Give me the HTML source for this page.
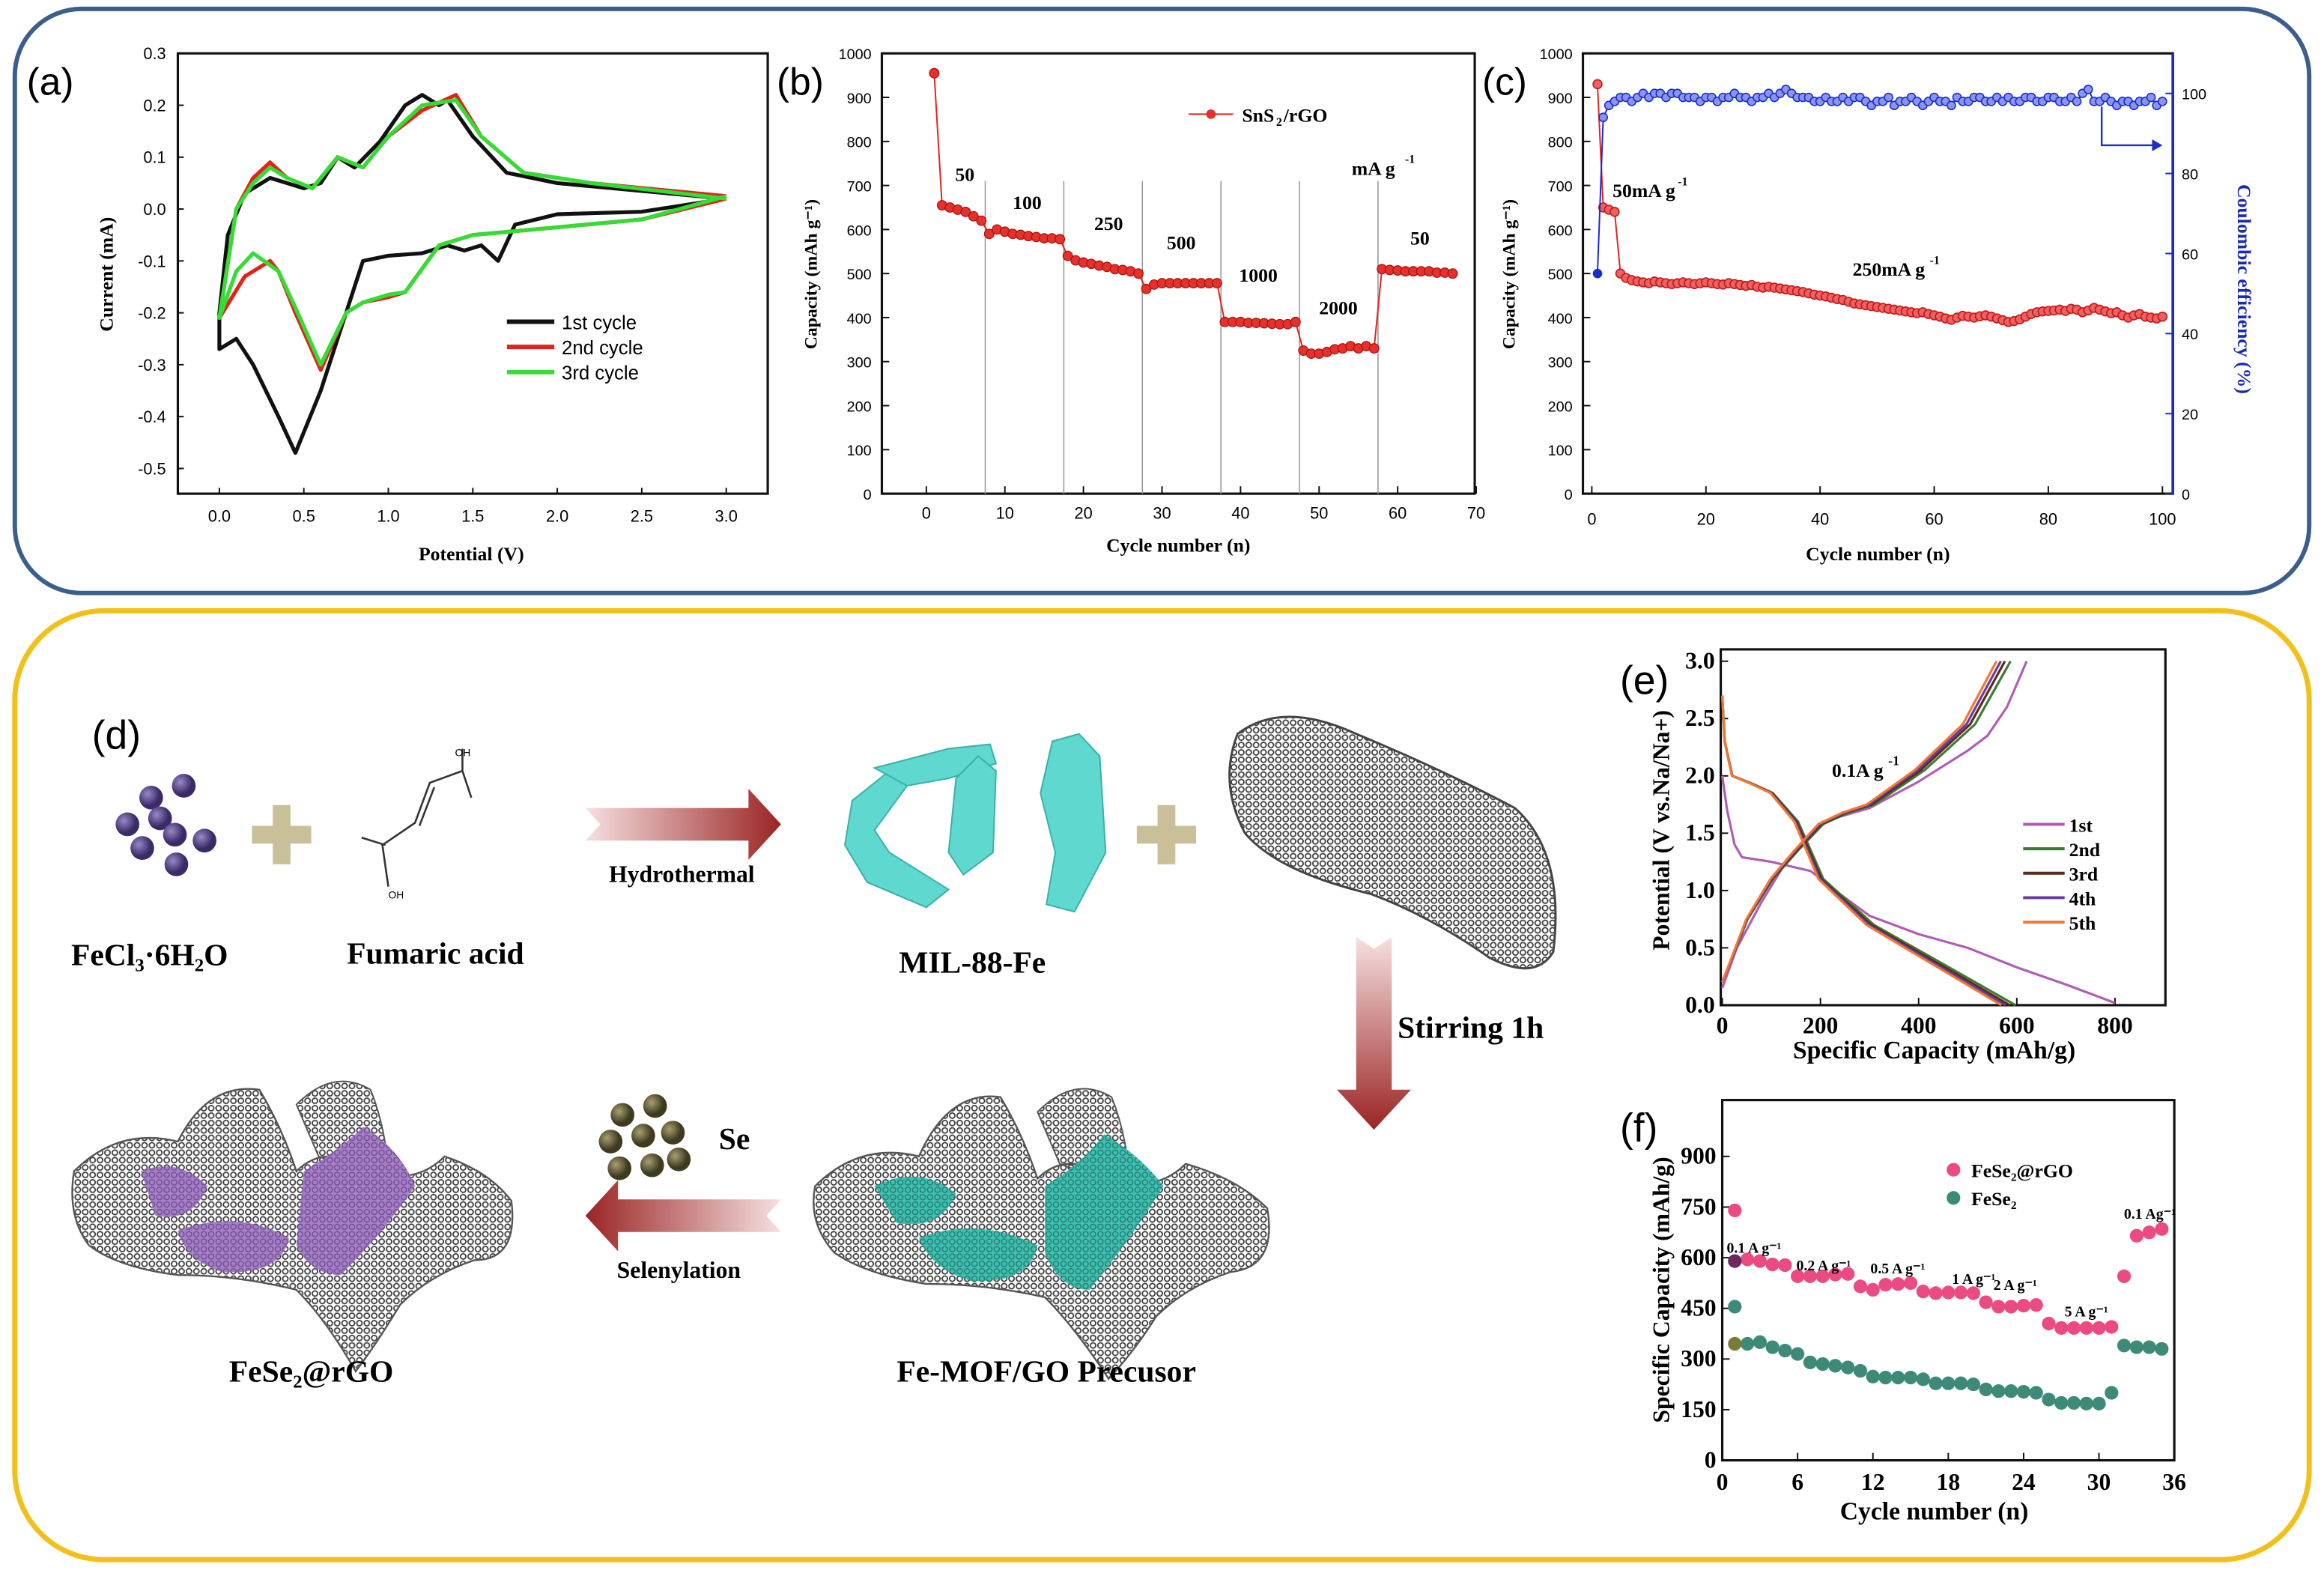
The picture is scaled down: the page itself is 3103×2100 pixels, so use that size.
<!DOCTYPE html>
<html><head><meta charset="utf-8"><style>
html,body{margin:0;padding:0;background:#fff;}
svg{display:block;}
.t{font-family:"Liberation Serif",serif;font-weight:bold;}
.s{font-family:"Liberation Sans",sans-serif;}
</style></head><body>
<svg id="fig" width="3103" height="2100" viewBox="0 0 1568 1061" preserveAspectRatio="none" xmlns="http://www.w3.org/2000/svg">
<defs>
<pattern id="mesh" width="5" height="5" patternUnits="userSpaceOnUse"><circle cx="2.5" cy="2.5" r="1.8" fill="none" stroke="#3a3a3a" stroke-width="0.9"/></pattern>
<pattern id="meshP" width="5" height="5" patternUnits="userSpaceOnUse"><rect width="5" height="5" fill="#a77fc9"/><circle cx="2.5" cy="2.5" r="1.8" fill="none" stroke="#6d4c8c" stroke-width="0.7"/></pattern>
<pattern id="meshC" width="5" height="5" patternUnits="userSpaceOnUse"><rect width="5" height="5" fill="#3fbfb0"/><circle cx="2.5" cy="2.5" r="1.8" fill="none" stroke="#237a70" stroke-width="0.7"/></pattern>
<linearGradient id="gR" x1="0" x2="1"><stop offset="0" stop-color="#f6e0e0"/><stop offset="1" stop-color="#9b2424"/></linearGradient>
<linearGradient id="gL" x1="1" x2="0"><stop offset="0" stop-color="#f6e0e0"/><stop offset="1" stop-color="#9b2424"/></linearGradient>
<linearGradient id="gD" x1="0" x2="0" y1="0" y2="1"><stop offset="0" stop-color="#f6e0e0"/><stop offset="1" stop-color="#9b2424"/></linearGradient>
<radialGradient id="gPu" cx="0.35" cy="0.35"><stop offset="0" stop-color="#9a88c8"/><stop offset="1" stop-color="#3a2a66"/></radialGradient>
<radialGradient id="gSe" cx="0.35" cy="0.35"><stop offset="0" stop-color="#a8a070"/><stop offset="1" stop-color="#3e3a20"/></radialGradient>
</defs>
<rect x="10" y="6" width="1548" height="394" rx="45" fill="none" stroke="#3c5e8c" stroke-width="3"/>
<rect x="10" y="412" width="1548" height="640" rx="60" fill="none" stroke="#f2c01a" stroke-width="3.5"/>
<g id="plots"></g>
<g id="diagram">
<text class="s" x="62" y="505" font-size="27">(d)</text>
<g>
<circle cx="102" cy="538" r="8" fill="url(#gPu)"/><circle cx="124" cy="530" r="8" fill="url(#gPu)"/><circle cx="86" cy="556" r="8" fill="url(#gPu)"/><circle cx="108" cy="552" r="8" fill="url(#gPu)"/><circle cx="118" cy="563" r="8" fill="url(#gPu)"/><circle cx="96" cy="572" r="8" fill="url(#gPu)"/><circle cx="138" cy="567" r="8" fill="url(#gPu)"/><circle cx="119" cy="583" r="8" fill="url(#gPu)"/></g>
<path d="M184 543h12v14h14v12h-14v14h-12v-14h-14v-12h14z" fill="#c9c09a"/>
<g fill="none" stroke="#333" stroke-width="1.3"><path d="M262 598 L258 570 L280 555 L290 528 L312 520 L318 538 M312 520 L312 505 M260 570 L244 565 M283 557 L293 531"/></g>
<text x="307" y="510" font-size="7" font-family="Liberation Sans">OH</text>
<text x="262" y="606" font-size="7" font-family="Liberation Sans">OH</text>
<text class="t" x="48" y="651" font-size="21">FeCl₃·6H₂O</text>
<text class="t" x="234" y="650" font-size="21">Fumaric acid</text>
<path d="M395 545 L505 545 L505 532 L527 556 L505 580 L505 567 L395 567 L405 556 Z" fill="url(#gR)"/>
<text class="t" x="460" y="595" font-size="16" text-anchor="middle">Hydrothermal</text>
<g fill="#5fd9cf" stroke="#3ab0a6" stroke-width="1">
<path d="M575 540 L600 520 L612 530 L590 560 L600 575 L640 600 L625 612 L585 595 L570 570 Z"/>
<path d="M590 518 L640 505 L668 502 L672 515 L640 525 L612 530 Z"/>
<path d="M645 525 L660 510 L672 520 L670 575 L650 590 L640 575 Z"/>
<path d="M710 500 L728 495 L742 510 L746 575 L725 615 L706 610 L712 575 L702 535 Z"/></g>
<text class="t" x="656" y="656" font-size="21" text-anchor="middle">MIL-88-Fe</text>
<path d="M781 543h12v14h14v12h-14v14h-12v-14h-14v-12h14z" fill="#c9c09a"/>
<path d="M835 495 Q865 472 915 495 Q975 520 1022 545 Q1056 575 1048 642 Q1036 662 1005 646 Q965 618 925 603 Q862 588 840 562 Q822 528 835 495 Z" fill="url(#mesh)" stroke="#444" stroke-width="1.5"/>
<path d="M915 632 L927 640 L939 632 L939 735 L952 735 L927 762 L902 735 L915 735 Z" fill="url(#gD)"/>
<text class="t" x="943" y="700" font-size="21">Stirring 1h</text>
<g>
<path d="M50 790 Q80 760 120 770 Q140 730 175 735 Q190 760 200 790 Q220 770 250 790 Q280 800 300 780 Q330 790 345 810 Q350 850 320 850 Q290 860 270 880 Q255 905 240 925 Q220 890 200 870 Q160 860 120 860 Q80 855 60 840 Q45 820 50 790 Z" fill="url(#mesh)" stroke="#555" stroke-width="1.2"/>
<path d="M200 745 Q225 720 250 735 Q260 760 262 790 Q240 790 215 780 Z" fill="url(#mesh)" stroke="#555"/>
<path d="M95 790 Q120 780 140 800 Q130 825 105 820 Z" fill="url(#meshP)"/>
<path d="M120 830 Q160 815 195 835 Q190 860 150 858 Q125 850 120 830 Z" fill="url(#meshP)"/>
<path d="M205 790 Q230 775 245 760 Q270 775 280 800 Q260 830 230 860 Q210 860 200 840 Z" fill="url(#meshP)"/></g>
<text class="t" x="210" y="932" font-size="21" text-anchor="middle">FeSe₂@rGO</text>
<g>
<circle cx="420" cy="752" r="8" fill="url(#gSe)"/><circle cx="442" cy="746" r="8" fill="url(#gSe)"/><circle cx="412" cy="770" r="8" fill="url(#gSe)"/><circle cx="434" cy="766" r="8" fill="url(#gSe)"/><circle cx="454" cy="764" r="8" fill="url(#gSe)"/><circle cx="418" cy="788" r="8" fill="url(#gSe)"/><circle cx="440" cy="786" r="8" fill="url(#gSe)"/><circle cx="458" cy="782" r="8" fill="url(#gSe)"/></g>
<text class="t" x="485" y="775" font-size="21">Se</text>
<path d="M527 809 L417 809 L417 796 L395 820 L417 844 L417 831 L527 831 L517 820 Z" fill="url(#gL)"/>
<text class="t" x="458" y="862" font-size="16" text-anchor="middle">Selenylation</text>
<g>
<path d="M550 800 Q580 770 620 780 Q640 735 675 740 Q690 765 700 795 Q720 775 750 795 Q780 805 800 785 Q835 795 855 815 Q862 855 830 858 Q800 868 780 888 Q765 912 748 930 Q725 895 705 875 Q665 866 625 866 Q585 860 563 845 Q545 825 550 800 Z" fill="url(#mesh)" stroke="#555" stroke-width="1.2"/>
<path d="M700 750 Q725 725 750 740 Q760 765 762 795 Q740 795 715 785 Z" fill="url(#mesh)" stroke="#555"/>
<path d="M590 800 Q620 785 645 805 Q635 830 605 825 Z" fill="url(#meshC)"/>
<path d="M620 835 Q660 820 700 840 Q695 866 655 864 Q628 856 620 835 Z" fill="url(#meshC)"/>
<path d="M705 800 Q730 785 745 765 Q770 780 785 800 Q760 840 735 870 Q715 870 705 845 Z" fill="url(#meshC)"/></g>
<text class="t" x="706" y="932" font-size="21" text-anchor="middle">Fe-MOF/GO Precusor</text>
</g>
</svg>
<script>
// ---------- data ----------
const cv1V=[3.0,2.5,2.0,1.75,1.65,1.55,1.45,1.35,1.2,1.0,0.85,0.75,0.6,0.45,0.35,0.2,0.1,0.0,0.0,0.05,0.15,0.3,0.5,0.6,0.7,0.8,0.95,1.1,1.2,1.3,1.35,1.5,1.7,2.0,2.5,3.0];
const cv1I=[0.02,-0.005,-0.01,-0.03,-0.1,-0.07,-0.08,-0.07,-0.085,-0.09,-0.1,-0.2,-0.35,-0.47,-0.4,-0.3,-0.25,-0.27,-0.2,-0.05,0.03,0.06,0.04,0.05,0.1,0.08,0.13,0.2,0.22,0.2,0.21,0.14,0.07,0.05,0.035,0.02];
const cv2V=[3.0,2.5,2.0,1.5,1.3,1.1,1.0,0.85,0.75,0.6,0.45,0.35,0.3,0.15,0.0,0.0,0.1,0.2,0.3,0.4,0.55,0.7,0.85,1.0,1.2,1.4,1.55,1.8,2.2,3.0];
const cv2I=[0.02,-0.02,-0.035,-0.05,-0.07,-0.16,-0.17,-0.18,-0.2,-0.31,-0.2,-0.12,-0.1,-0.13,-0.21,-0.21,0.0,0.06,0.09,0.06,0.04,0.1,0.08,0.14,0.19,0.22,0.14,0.07,0.05,0.025];
const cv3V=[3.0,2.5,2.0,1.5,1.3,1.1,1.0,0.85,0.75,0.6,0.45,0.35,0.2,0.1,0.0,0.0,0.1,0.2,0.3,0.4,0.55,0.7,0.85,1.0,1.2,1.4,1.55,1.8,2.2,3.0];
const cv3I=[0.025,-0.02,-0.035,-0.05,-0.07,-0.16,-0.165,-0.18,-0.2,-0.3,-0.19,-0.12,-0.085,-0.12,-0.21,-0.21,0.0,0.05,0.08,0.06,0.04,0.1,0.08,0.14,0.2,0.21,0.14,0.07,0.05,0.02];
const aXTicks=[0.0,0.5,1.0,1.5,2.0,2.5,3.0];
const aYTicks=[0.3,0.2,0.1,0.0,-0.1,-0.2,-0.3,-0.4,-0.5];
const bCap=[955,655,650,645,640,630,620,590,600,595,590,588,585,583,580,580,578,540,530,525,522,518,515,510,508,505,500,465,475,478,478,478,478,478,478,478,478,390,390,390,388,388,387,386,385,385,390,325,318,318,322,328,330,335,330,335,330,510,508,507,505,505,505,505,502,502,500];
const bRates=["50","100","250","500","1000","2000","50"];
const bDividers=[7.5,17.5,27.5,37.5,47.5,57.5];
const bXTicks=[0,10,20,30,40,50,60,70];
const capTicks=[0,100,200,300,400,500,600,700,800,900,1000];
const cCap=[930,650,645,640,500,490,485,482,480,478,482,480,478,476,478,480,478,476,478,480,478,476,475,478,476,474,472,474,470,468,470,468,466,464,462,460,458,455,452,450,448,445,442,440,436,432,430,428,426,424,422,420,418,416,414,412,410,412,408,405,402,398,395,400,404,402,400,403,405,402,398,394,390,392,396,402,408,412,414,415,416,418,415,420,418,412,416,422,418,414,410,412,405,400,405,408,402,400,398,402];
const cCE=[55,94,97,98,99,99,98,99,100,99,100,100,99,100,100,99,99,99,98,99,99,98,99,99,100,99,99,98,99,99,100,99,100,101,100,99,99,99,98,98,99,98,98,99,98,99,99,98,97,98,98,99,97,98,98,99,98,97,98,99,98,98,97,99,98,98,99,99,98,98,99,98,99,98,98,99,99,98,98,99,99,98,98,99,98,100,101,98,98,99,98,97,98,98,97,98,98,99,97,98];
const cXTicks=[0,20,40,60,80,100];
const ceTicks=[0,20,40,60,80,100];
const eDis1C=[0,10,25,40,100,180,230,300,400,500,600,700,800];
const eDis1V=[2.0,1.7,1.4,1.29,1.25,1.17,1.0,0.78,0.62,0.5,0.33,0.18,0.02];
const eChg1C=[0,30,80,130,180,220,300,400,500,540,580,620];
const eChg1V=[0.15,0.5,0.9,1.25,1.5,1.62,1.72,1.95,2.22,2.35,2.6,3.0];
const eDisC=[0,5,20,60,100,150,200,250,300,400,500,580];
const eDisV=[2.7,2.3,2.0,1.93,1.85,1.6,1.1,0.9,0.7,0.45,0.2,0.0];
const eChgC=[0,50,100,150,200,250,300,400,500,570];
const eChgV=[0.2,0.75,1.1,1.35,1.58,1.68,1.75,2.05,2.45,3.0];
const eScale=[1.03,1.01,0.995,0.98];
const eXTicks=[0,200,400,600,800];
const eYTicks=[0.0,0.5,1.0,1.5,2.0,2.5,3.0];
const eNames=["1st","2nd","3rd","4th","5th"];
const fRgo=[740,595,590,580,578,545,545,545,550,552,515,505,520,522,525,500,495,497,497,495,468,455,455,458,460,405,392,392,392,392,395,545,665,675,685];
const fBare=[455,345,350,335,325,315,290,285,280,275,265,248,245,245,245,240,228,228,228,225,210,205,205,203,200,180,170,170,168,168,200,340,335,335,330];
const fGhostX=[1,1];
const fGhostY=[590,345];
const fXTicks=[0,6,12,18,24,30,36];
const fYTicks=[0,150,300,450,600,750,900];

// ---------- drawing ----------
const NS="http://www.w3.org/2000/svg";
const root=document.getElementById('plots');
function mk(tag,attrs,parent){const e=document.createElementNS(NS,tag);for(const k in attrs)e.setAttribute(k,attrs[k]);(parent||root).appendChild(e);return e;}
function lin(d0,d1,p0,p1){return v=>p0+(v-d0)*(p1-p0)/(d1-d0);}
function txt(x,y,s,size,cls,anchor,parent){const t=mk('text',{x:x,y:y,'font-size':size,class:cls,'text-anchor':anchor||'start'},parent);t.textContent=s;return t;}
function frame(x0,y0,x1,y1,name){const r=mk('rect',{x:x0,y:y0,width:x1-x0,height:y1-y0,fill:'none',stroke:'#111','stroke-width':1.6});

}
function path(xs,ys,sx,sy,stroke,w,name){let d='';for(let i=0;i<xs.length;i++)d+=(i?'L':'M')+sx(xs[i]).toFixed(1)+' '+sy(ys[i]).toFixed(1);
const p=mk('path',{d:d,fill:'none',stroke:stroke,'stroke-width':w,'stroke-linejoin':'round'});

return p;}

{const sx=lin(0,3,148,490), sy=lin(0,0.1,141,106);
frame(120,36,518,333,'panel-a-plot-area');
aXTicks.forEach(v=>{mk('line',{x1:sx(v),x2:sx(v),y1:333,y2:329,stroke:'#111'});const t=txt(sx(v),352,v.toFixed(1),11,'s','middle');

});
aYTicks.forEach(v=>{mk('line',{x1:120,x2:124,y1:sy(v),y2:sy(v),stroke:'#111'});const t=txt(112,sy(v)+4,v.toFixed(1),11,'s','end');

});
path(cv1V,cv1I,sx,sy,'#111',2.6,'cv-cycle-1');
path(cv2V,cv2I,sx,sy,'#e0241c',2.6,'cv-cycle-2');
path(cv3V,cv3I,sx,sy,'#33dd33',2.6,'cv-cycle-3');
const names=['1st cycle','2nd cycle','3rd cycle'],cols=['#111','#e0241c','#33dd33'];
names.forEach((n,i)=>{const y=217+i*17;mk('line',{x1:342,x2:374,y1:y,y2:y,stroke:cols[i],'stroke-width':3});const t=txt(379,y+5,n,13,'s');

});
let t=txt(18,64,'(a)',26,'s');
t=txt(318,378,'Potential (V)',13,'t','middle');
t=txt(0,0,'Current (mA)',13,'t','middle');t.setAttribute('transform','translate(76,185) rotate(-90)');}

{const sx=lin(0,70,625,996), sy=lin(0,1000,333,36);
frame(595,36,995,333,'panel-b-plot-area');
bXTicks.forEach(v=>{mk('line',{x1:sx(v),x2:sx(v),y1:333,y2:328,stroke:'#111'});const t=txt(sx(v),350,v,11,'s','middle');

});
capTicks.forEach(v=>{mk('line',{x1:595,x2:600,y1:sy(v),y2:sy(v),stroke:'#111'});const t=txt(588,sy(v)+4,v,10,'s','end');

});
bDividers.forEach(v=>{const l=mk('line',{x1:sx(v),x2:sx(v),y1:sy(0),y2:sy(710),stroke:'#999','stroke-width':0.8});

});
const xs=bCap.map((v,i)=>i+1);
path(xs,bCap,sx,sy,'#e0241c',1,'b-capacity-line');
bCap.forEach((v,i)=>{const c=mk('circle',{cx:sx(i+1),cy:sy(v),r:3.2,fill:'#e8302a',stroke:'#a01010','stroke-width':0.6});

});
const lp=[[651,122],[693,141],[748,155],[797,168],[849,190],[903,212],[958,165]];
bRates.forEach((r,i)=>{const t=txt(lp[i][0],lp[i][1],r,13,'t','middle');

});
let t=txt(912,118,'mA g',13,'t');
txt(948,110,'-1',8,'t');
mk('line',{x1:802,x2:832,y1:77,y2:77,stroke:'#e0241c'});mk('circle',{cx:817,cy:77,r:3.2,fill:'#e8302a'});
t=txt(838,82,'SnS',13,'t');
txt(861,85,'2',8,'t');txt(866,82,'/rGO',13,'t');
t=txt(524,64,'(b)',26,'s');
t=txt(795,372,'Cycle number (n)',13,'t','middle');
t=txt(0,0,'Capacity (mAh g⁻¹)',12,'t','middle');t.setAttribute('transform','translate(551,185) rotate(-90)');}

{const sx=lin(0,100,1074,1459), sy=lin(0,1000,333,36), sy2=lin(0,100,333,63);
frame(1068,36,1466,333,'panel-c-plot-area');
mk('line',{x1:1466,x2:1466,y1:36,y2:333,stroke:'#1a2bb0','stroke-width':1.8});
cXTicks.forEach(v=>{mk('line',{x1:sx(v),x2:sx(v),y1:333,y2:328,stroke:'#111'});const t=txt(sx(v),354,v,11,'s','middle');

});
capTicks.forEach(v=>{mk('line',{x1:1068,x2:1073,y1:sy(v),y2:sy(v),stroke:'#111'});const t=txt(1061,sy(v)+4,v,10,'s','end');

});
ceTicks.forEach(v=>{mk('line',{x1:1461,x2:1466,y1:sy2(v),y2:sy2(v),stroke:'#1a2bb0'});const t=txt(1472,sy2(v)+4,v,10,'s');

});
const xs=cCap.map((v,i)=>i+1);
path(xs,cCap,sx,sy,'#e0241c',1,'c-capacity-line');
cCap.forEach((v,i)=>{const c=mk('circle',{cx:sx(i+1),cy:sy(v),r:3,fill:'#f06060',stroke:'#c01818','stroke-width':0.8});

});
path(xs,cCE,sx,sy2,'#1a2bd0',1,'c-efficiency-line');
cCE.forEach((v,i)=>{const c=mk('circle',{cx:sx(i+1),cy:sy2(v),r:2.8,fill:i==0?'#1a2bd0':'#8a96ee',stroke:'#1a2bd0','stroke-width':0.8});

});
const ar=mk('path',{d:'M1418 72 L1418 98 L1452 98',fill:'none',stroke:'#1a2bd0','stroke-width':1.2});


mk('path',{d:'M1452 94 L1459 98 L1452 102 Z',fill:'#1a2bd0'});
let t=txt(1088,133,'50mA g',13,'t');txt(1132,125,'-1',8,'t');
t=txt(1250,186,'250mA g',13,'t');txt(1302,178,'-1',8,'t');
t=txt(1000,64,'(c)',26,'s');
t=txt(1267,378,'Cycle number (n)',13,'t','middle');
t=txt(0,0,'Capacity (mAh g⁻¹)',12,'t','middle');t.setAttribute('transform','translate(1022,185) rotate(-90)');
t=txt(0,0,'Coulombic efficiency (%)',13,'t','middle');t.setAttribute('fill','#1a2bb0');t.setAttribute('transform','translate(1510,195) rotate(90)');}

{const sx=lin(0,800,1162,1427), sy=lin(0,3,678,446);
frame(1161,438,1461,678,'panel-e-plot-area');
eXTicks.forEach(v=>{mk('line',{x1:sx(v),x2:sx(v),y1:678,y2:673,stroke:'#111'});const t=txt(sx(v),697,v,16,'t','middle');

});
eYTicks.forEach(v=>{mk('line',{x1:1161,x2:1166,y1:sy(v),y2:sy(v),stroke:'#111'});const t=txt(1157,sy(v)+5,v.toFixed(1),16,'t','end');

});
const cols=['#b05cb5','#3a7a35','#5a2a1a','#6a3aa0','#f07830'];
path(eDis1C,eDis1V,sx,sy,cols[0],1.6,'e-discharge-1st');
path(eChg1C,eChg1V,sx,sy,cols[0],1.6,'e-charge-1st');
eScale.forEach((k,i)=>{path(eDisC.map(v=>v*k),eDisV,sx,sy,cols[i+1],1.6,'e-discharge-'+eNames[i+1]);
path(eChgC.map(v=>v*k),eChgV,sx,sy,cols[i+1],1.6,'e-charge-'+eNames[i+1]);});
eNames.forEach((n,i)=>{const y=556+i*16.5;mk('line',{x1:1365,x2:1393,y1:y,y2:y,stroke:cols[i],'stroke-width':2});const t=txt(1396,y+5,n,13,'t');

});
let t=txt(1236,524,'0.1A g',13,'t');txt(1274,516,'-1',9,'t');
t=txt(1093,468,'(e)',27,'s');
t=txt(1305,714,'Specific Capacity (mAh/g)',17,'t','middle');
t=txt(0,0,'Potential (V vs.Na/Na+)',16,'t','middle');t.setAttribute('transform','translate(1126,560) rotate(-90)');}

{const sx=lin(0,36,1162,1467), sy=lin(0,900,985,780);
frame(1162,742,1467,985,'panel-f-plot-area');
fXTicks.forEach(v=>{mk('line',{x1:sx(v),x2:sx(v),y1:985,y2:980,stroke:'#111'});const t=txt(sx(v),1005,v,16,'t','middle');

});
fYTicks.forEach(v=>{mk('line',{x1:1162,x2:1167,y1:sy(v),y2:sy(v),stroke:'#111'});const t=txt(1158,sy(v)+5,v,16,'t','end');

});
fBare.forEach((v,i)=>{const c=mk('circle',{cx:sx(i+1),cy:sy(v),r:4.6,fill:'#3d8a78'});

});
fRgo.forEach((v,i)=>{const c=mk('circle',{cx:sx(i+1),cy:sy(v),r:4.6,fill:'#ec4a82'});

});
fGhostX.forEach((x,i)=>{const c=mk('circle',{cx:sx(x),cy:sy(fGhostY[i]),r:4.6,fill:i==0?'#6a2a60':'#7a7a3a'});

});
mk('circle',{cx:1318,cy:789,r:4.6,fill:'#ec4a82'});mk('circle',{cx:1318,cy:808,r:4.6,fill:'#3d8a78'});
let t=txt(1330,794,'FeSe₂@rGO',13,'t');
t=txt(1330,813,'FeSe₂',13,'t');
const labs=[['0.1 A g⁻¹',1165,845],['0.2 A g⁻¹',1212,857],['0.5 A g⁻¹',1262,859],['1 A g⁻¹',1317,866],['2 A g⁻¹',1345,870],['5 A g⁻¹',1393,888],['0.1 Ag⁻¹',1433,822]];
labs.forEach(l=>{const t=txt(l[1],l[2],l[0],10,'t');

});
t=txt(1093,770,'(f)',27,'s');
t=txt(1305,1025,'Cycle number (n)',17,'t','middle');
t=txt(0,0,'Specific Capacity (mAh/g)',16,'t','middle');t.setAttribute('transform','translate(1126,870) rotate(-90)');}
</script>
</body></html>
